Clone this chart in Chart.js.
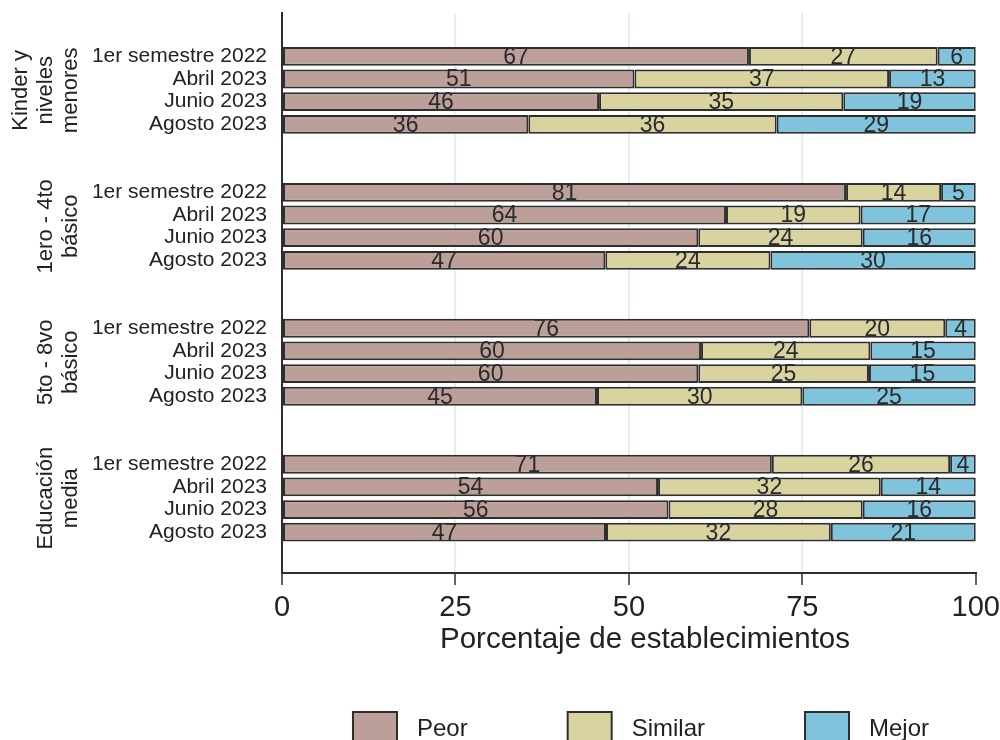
<!DOCTYPE html>
<html>
<head>
<meta charset="utf-8">
<script src="https://cdn.jsdelivr.net/npm/chart.js@4/dist/chart.umd.min.js"></script>
<style>
  body { margin: 0; background: #fff; }
</style>
</head>
<body>
<canvas id="chart" width="1000" height="740"></canvas>
<script>
const groups = [['Kinder y', 'niveles', 'menores'], ['1ero - 4to', 'básico'], ['5to - 8vo', 'básico'], ['Educación', 'media']];
const periods = ['1er semestre 2022', 'Abril 2023', 'Junio 2023', 'Agosto 2023'];
const seriesNames = ['Peor', 'Similar', 'Mejor'];
const peor = [67.3, 50.8, 45.7, 35.5, 81.3, 64.0, 60.0, 46.6, 76.0, 60.4, 60.0, 45.4, 70.6, 54.2, 55.7, 46.7];
const similar = [27.2, 36.7, 35.2, 35.8, 13.7, 19.4, 23.7, 23.8, 19.6, 24.4, 24.6, 29.6, 25.7, 32.1, 28.0, 32.4];
const mejor = [5.5, 12.5, 19.1, 28.7, 5.0, 16.6, 16.3, 29.6, 4.4, 15.2, 15.4, 25.0, 3.7, 13.7, 16.3, 20.9];
const xTicks = [0, 25, 50, 75, 100];
const xTitle = 'Porcentaje de establecimientos';

const colors = {
    peor: '#bd9f9a',
    similar: '#d9d3a0',
    mejor: '#7fc4dc',
    line: '#2e2e2e',
    text: '#222222'
};
const FONT = '"Liberation Sans", Arial, sans-serif';

// each group takes 4 rows plus 2 empty rows
const rowPos = i => Math.floor(i / periods.length) * (periods.length + 2) + i % periods.length;
const rows = peor.map((v, i) => rowPos(i));

function makeSet (label, values, color) {
    return {
        label,
        data: values.map((v, i) => ({ x: v, y: rows[i] })),
        backgroundColor: color,
        borderColor: colors.line,
        borderWidth: 2,
        borderSkipped: false,
        categoryPercentage: 1,
        barPercentage: 0.83
    };
}

const extras = {
    id: 'extras',
    afterDatasetsDraw (chart) {
        let ctx = chart.ctx;
        ctx.save();
        // values inside the bars
        ctx.font = '23px ' + FONT;
        ctx.fillStyle = '#2a2a2a';
        ctx.textAlign = 'center';
        ctx.textBaseline = 'middle';
        chart.data.datasets.forEach((ds, di) => {
            chart.getDatasetMeta(di).data.forEach((bar, i) => {
                ctx.fillText(Math.round(ds.data[i].x), (bar.x + bar.base) / 2, bar.y + 1);
            });
        });
        // rotated group names
        let y = chart.scales.y;
        ctx.font = '22px ' + FONT;
        ctx.fillStyle = colors.text;
        ctx.textBaseline = 'alphabetic';
        groups.forEach((lines, g) => {
            let cy = y.getPixelForValue(g * (periods.length + 2) + 1.5);
            lines.forEach((txt, k) => {
                let bx = 77 - (lines.length - 1 - k) * 25;
                ctx.save();
                ctx.translate(bx, cy);
                ctx.rotate(-Math.PI / 2);
                ctx.fillText(txt, 0, 0);
                ctx.restore();
            });
        });
        ctx.restore();
    },
    afterDraw (chart) {
        let ctx = chart.ctx;
        ctx.save();
        // axis title, a bit right of the plot centre like the original
        ctx.font = '29.5px ' + FONT;
        ctx.fillStyle = colors.text;
        ctx.textAlign = 'center';
        ctx.textBaseline = 'middle';
        ctx.fillText(xTitle, 645, 640);

        ctx.font = '24px ' + FONT;
        let fills = [colors.peor, colors.similar, colors.mejor];
        let boxW = 44, gapText = 20, gapItem = 100;
        let widths = seriesNames.map(n => boxW + gapText + ctx.measureText(n).width);
        let total = widths.reduce((a, b) => a + b, 0) + gapItem * (seriesNames.length - 1);
        let x = 641 - total / 2;
        seriesNames.forEach((n, i) => {
            ctx.fillStyle = fills[i];
            ctx.fillRect(x, 712, boxW, 32);
            ctx.strokeStyle = colors.line;
            ctx.lineWidth = 2;
            ctx.strokeRect(x, 712, boxW, 32);
            ctx.fillStyle = colors.text;
            ctx.textAlign = 'left';
            ctx.textBaseline = 'middle';
            ctx.fillText(n, x + boxW + gapText, 729);
            x += widths[i] + gapItem;
        });
        ctx.restore();
    }
};

let ctx = document.getElementById('chart').getContext('2d');
let myChart = new Chart(ctx, {
    type: 'bar',
    data: {
        datasets: [
            makeSet('Peor', peor, colors.peor),
            makeSet('Similar', similar, colors.similar),
            makeSet('Mejor', mejor, colors.mejor)
        ]
    },
    options: {
        indexAxis: 'y',
        responsive: false,
        animation: false,
        devicePixelRatio: 1,
        layout: { padding: { top: 0, right: 0, bottom: 82, left: 0 } },
        plugins: {
            legend: { display: false },
            tooltip: { enabled: false }
        },
        scales: {
            x: {
                type: 'linear',
                stacked: true,
                min: 0,
                max: 100,
                afterBuildTicks: s => { s.ticks = xTicks.map(v => ({ value: v })); },
                afterFit: s => { s.height = 85; },
                ticks: {
                    font: { size: 29, family: FONT, lineHeight: 1.6 },
                    color: colors.text,
                    padding: 0,
                    maxRotation: 0
                },
                grid: {
                    color: c => (c.tick && c.tick.value > 0 && c.tick.value < 100) ? '#e6eef0' : 'rgba(0,0,0,0)',
                    lineWidth: 2,
                    tickColor: colors.line,
                    tickLength: 12,
                    tickWidth: 1.5
                },
                border: { display: true, color: colors.line, width: 2 }
            },
            y: {
                type: 'linear',
                stacked: true,
                reverse: true,
                offset: false,
                min: -1.9,
                max: 22.8,
                afterBuildTicks: s => { s.ticks = rows.map(v => ({ value: v })); },
                afterFit: s => { s.width = 282; },
                ticks: {
                    font: { size: 21, family: FONT, lineHeight: 0.6 },
                    color: colors.text,
                    padding: 7,
                    callback: v => periods[v % (periods.length + 2)]
                },
                grid: { display: false },
                border: { display: true, color: colors.line, width: 2 }
            }
        }
    },
    plugins: [extras]
});
</script>
</body>
</html>
